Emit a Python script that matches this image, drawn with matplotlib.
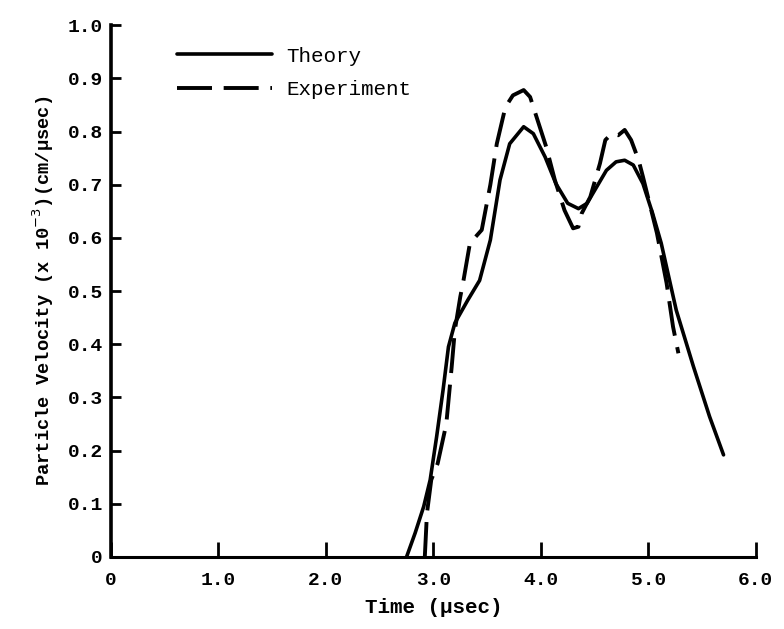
import matplotlib
matplotlib.use("Agg")
import matplotlib.pyplot as plt

# DATA
theory_t = [2.75, 2.83, 2.91, 2.97, 3.03, 3.09, 3.14, 3.20, 3.32, 3.43, 3.53, 3.62,
            3.71, 3.84, 3.93, 4.04, 4.14, 4.25, 4.35, 4.43, 4.52, 4.61, 4.70, 4.78,
            4.86, 4.95, 5.04, 5.12, 5.26, 5.42, 5.57, 5.70]
theory_v = [0.0, 0.045, 0.095, 0.145, 0.226, 0.314, 0.395, 0.44, 0.483, 0.52, 0.596, 0.709,
            0.777, 0.809, 0.796, 0.752, 0.702, 0.665, 0.655, 0.665, 0.696, 0.727, 0.743, 0.746,
            0.737, 0.702, 0.646, 0.59, 0.464, 0.358, 0.264, 0.192]

exp_t = [2.92, 2.94, 2.98, 3.04, 3.12, 3.17, 3.20, 3.25, 3.28, 3.34, 3.45, 3.53, 3.59,
         3.67, 3.74, 3.84, 3.90, 3.97, 4.05, 4.13, 4.22, 4.30, 4.35, 4.38, 4.46, 4.55,
         4.60, 4.66, 4.72, 4.78, 4.84, 4.91, 4.95, 5.08, 5.17, 5.23, 5.28]
exp_v = [0.0, 0.082, 0.145, 0.176, 0.25, 0.357, 0.427, 0.489, 0.52, 0.59, 0.615, 0.70, 0.777,
         0.846, 0.868, 0.878, 0.865, 0.821, 0.771, 0.709, 0.652, 0.618, 0.621, 0.646, 0.677,
         0.74, 0.784, 0.796, 0.793, 0.803, 0.784, 0.746, 0.715, 0.609, 0.515, 0.433, 0.383]

x_ticks = [0, 1, 2, 3, 4, 5, 6]
x_labels = ["0", "1.0", "2.0", "3.0", "4.0", "5.0", "6.0"]
y_ticks = [0, 0.1, 0.2, 0.3, 0.4, 0.5, 0.6, 0.7, 0.8, 0.9, 1.0]
y_labels = ["0", "0.1", "0.2", "0.3", "0.4", "0.5", "0.6", "0.7", "0.8", "0.9", "1.0"]

mono = "Liberation Mono"

fig = plt.figure(figsize=(7.84, 6.29), dpi=100)
ax = fig.add_axes([0.1416, 0.1145, 0.8224, 0.8455])

ax.plot(theory_t, theory_v, color="black", lw=2.6, solid_capstyle="round",
        solid_joinstyle="round", label="Theory")
ax.plot(exp_t, exp_v, color="black", lw=2.8, dashes=(9, 3),
        label="Experiment")

ax.set_xlim(0, 6)
ax.set_ylim(0, 1.0)
ax.set_xticks(x_ticks)
ax.set_xticklabels(x_labels)
ax.set_yticks(y_ticks)
ax.set_yticklabels(y_labels)

for side in ["top", "right"]:
    ax.spines[side].set_visible(False)
ax.spines["left"].set_linewidth(2.6)
ax.spines["bottom"].set_linewidth(2.2)

ax.tick_params(axis="x", direction="in", length=11, width=2, pad=11)
ax.tick_params(axis="y", direction="in", length=7, width=2, pad=6)
for lab in ax.get_xticklabels() + ax.get_yticklabels():
    lab.set_fontfamily(mono)
    lab.set_fontweight("bold")
    lab.set_fontsize(14)

ax.set_xlabel("Time (\u03bcsec)", fontfamily=mono, fontweight="bold",
              fontsize=15, labelpad=6)
ax.set_ylabel("Particle Velocity (x 10$^{-3}$)(cm/\u03bcsec)", fontfamily=mono,
              fontweight="bold", fontsize=13.5, labelpad=8)

leg = ax.legend(loc="upper left", bbox_to_anchor=(0.073, 0.995), frameon=False,
                handlelength=4.55, handletextpad=0.7, labelspacing=0.7,
                prop={"family": mono, "size": 15})

fig.savefig("out.png", dpi=100)
